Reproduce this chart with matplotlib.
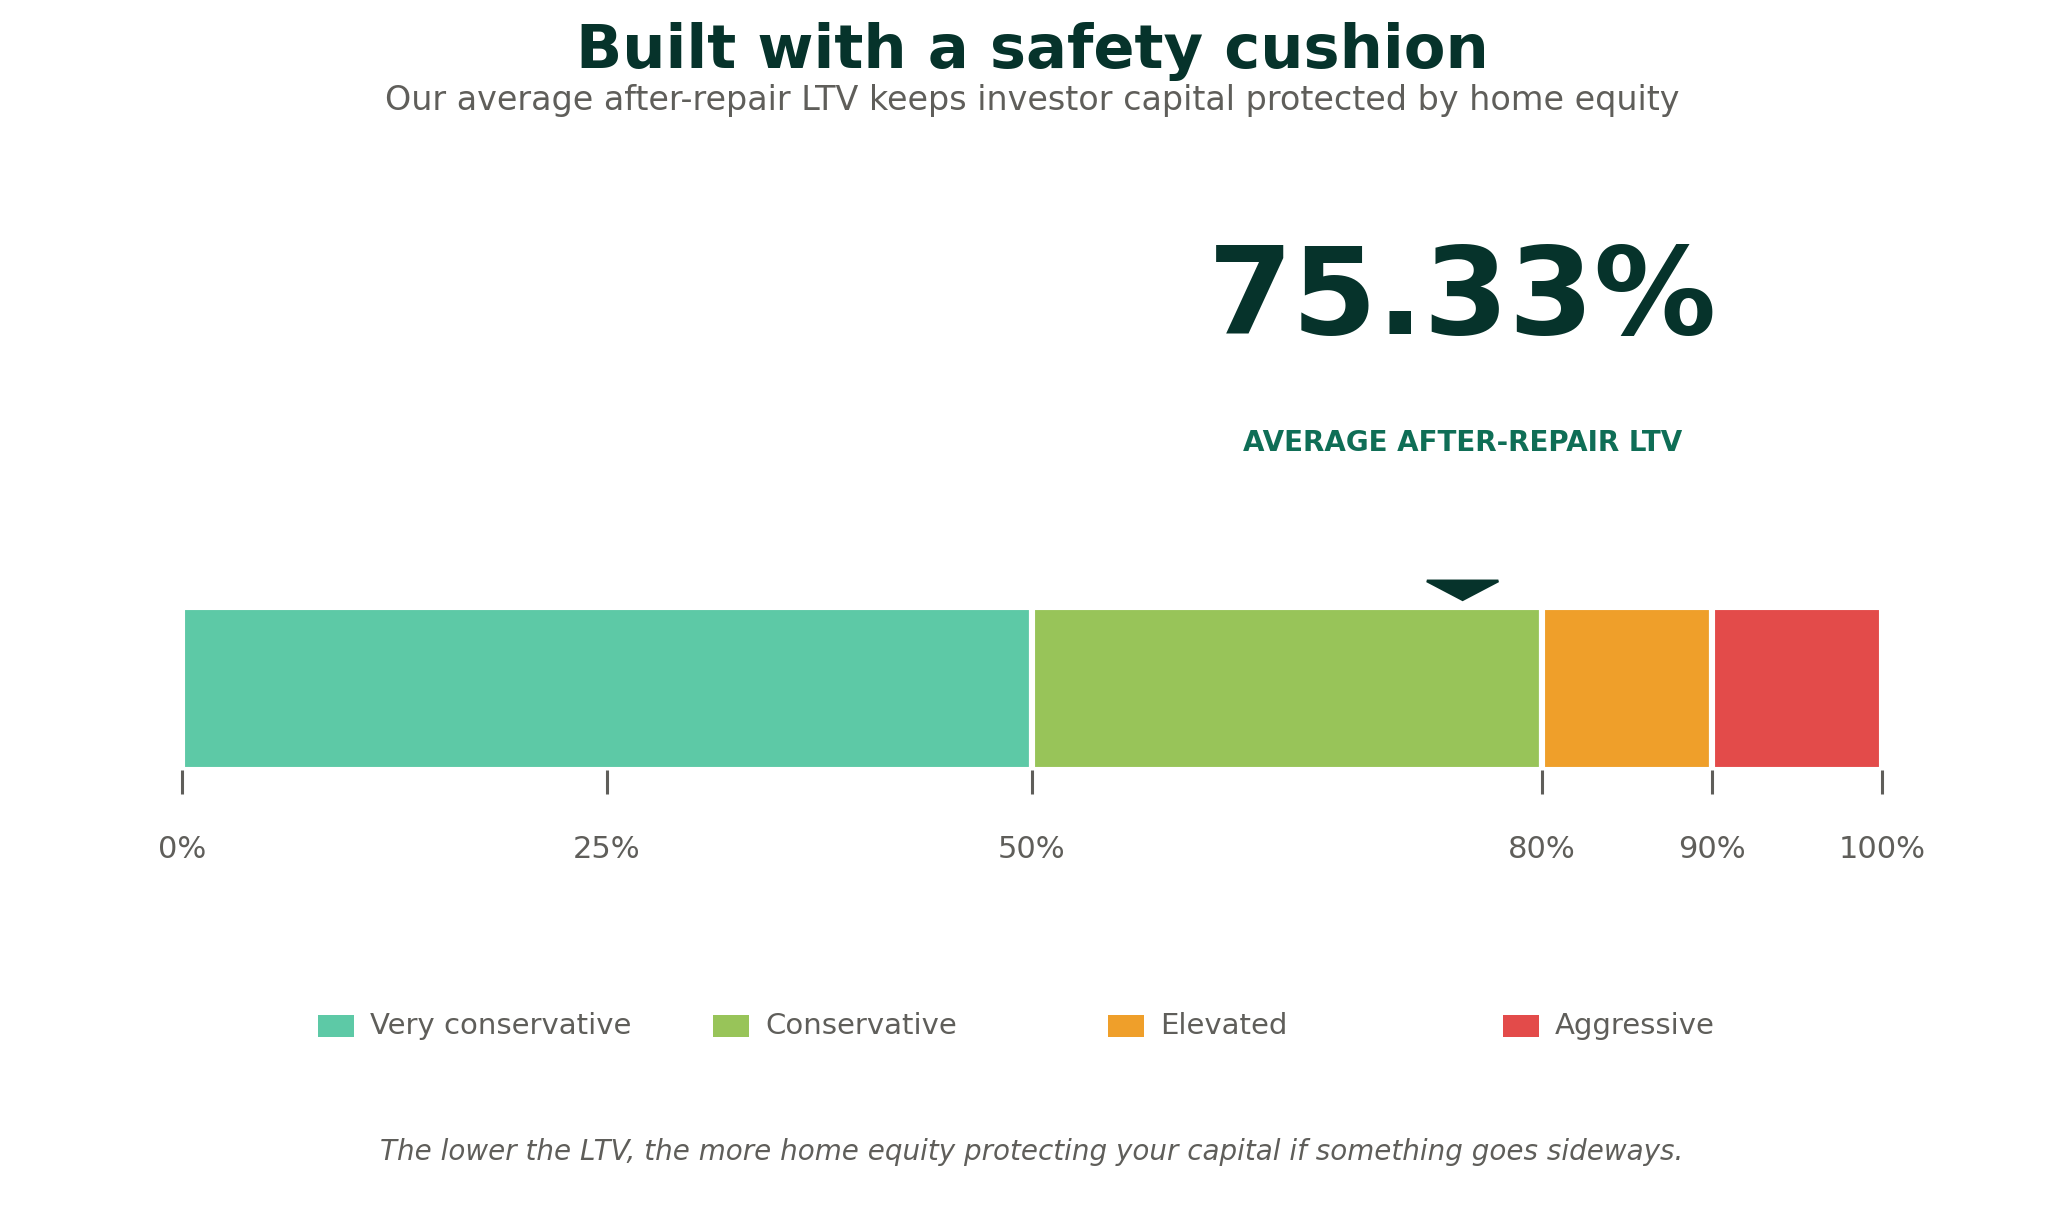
import numpy as np
import matplotlib.pyplot as plt
from matplotlib.patches import Rectangle
from matplotlib.transforms import blended_transform_factory

# data
band_edges = [0, 50, 80, 90, 100]
band_names = ["Very conservative", "Conservative", "Elevated", "Aggressive"]
band_colors = ["#5DC9A6", "#98C459", "#EF9F2A", "#E34B4A"]
tick_values = [0, 25, 50, 80, 90, 100]
tick_labels = ["0%", "25%", "50%", "80%", "90%", "100%"]
avg_ltv = 75.33

DARK = "#06332B"
GREEN = "#0F6E56"
GRAY = "#5F5E5A"

W, H = 2064, 1222
DPI = 200


def fx(px):
    return px / W


def fy(py):
    # pixel from top -> figure fraction from bottom
    return 1 - py / H


fig = plt.figure(figsize=(W / DPI, H / DPI), dpi=DPI)

ax = fig.add_axes([fx(182), fy(770), fx(1882) - fx(182), fy(607) - fy(770)])

starts = np.array(band_edges[:-1])
widths = np.diff(band_edges)
ax.barh(0.5, widths, left=starts, height=1, color=band_colors,
        edgecolor="white", linewidth=2.2)

ax.set_xlim(0, 100)
ax.set_ylim(0, 1)
ax.set_yticks([])
for s in ax.spines.values():
    s.set_visible(False)
ax.set_xticks(tick_values)
ax.set_xticklabels(tick_labels)
ax.tick_params(axis="x", direction="out", length=8.5, width=1.1, color=GRAY,
               labelcolor=GRAY, labelsize=11, pad=15)

# marker above the bar
ax.fill([avg_ltv - 2.1, avg_ltv + 2.1, avg_ltv], [1.16, 1.16, 1.045],
        color=DARK, clip_on=False, zorder=5)

trans = blended_transform_factory(ax.transData, fig.transFigure)
ax.text(avg_ltv, fy(334), f"{avg_ltv:.2f}%", transform=trans, ha="center",
        va="baseline", fontsize=44, fontweight="bold", color=DARK)
ax.text(avg_ltv, fy(451), "AVERAGE AFTER-REPAIR LTV", transform=trans,
        ha="center", va="baseline", fontsize=10, fontweight="bold", color=GREEN)

# titles
fig.text(0.5, fy(68), "Built with a safety cushion", ha="center", va="baseline",
         fontsize=21.9, fontweight="bold", color=DARK)
fig.text(0.5, fy(110), "Our average after-repair LTV keeps investor capital protected by home equity",
         ha="center", va="baseline", fontsize=12, color=GRAY)

# legend
for i, (name, col) in enumerate(zip(band_names, band_colors)):
    x0 = 318 + i * 395
    fig.add_artist(Rectangle((fx(x0), fy(1037)), fx(36), fy(1015) - fy(1037),
                             transform=fig.transFigure, facecolor=col, edgecolor="none"))
    fig.text(fx(x0 + 52), fy(1026), name, ha="left", va="center",
             fontsize=10.5, color=GRAY)

fig.text(0.5, fy(1152), "The lower the LTV, the more home equity protecting your capital if something goes sideways.",
         ha="center", va="center", fontsize=10, style="italic", color=GRAY)

fig.savefig("out.png", dpi=DPI, facecolor="white")
